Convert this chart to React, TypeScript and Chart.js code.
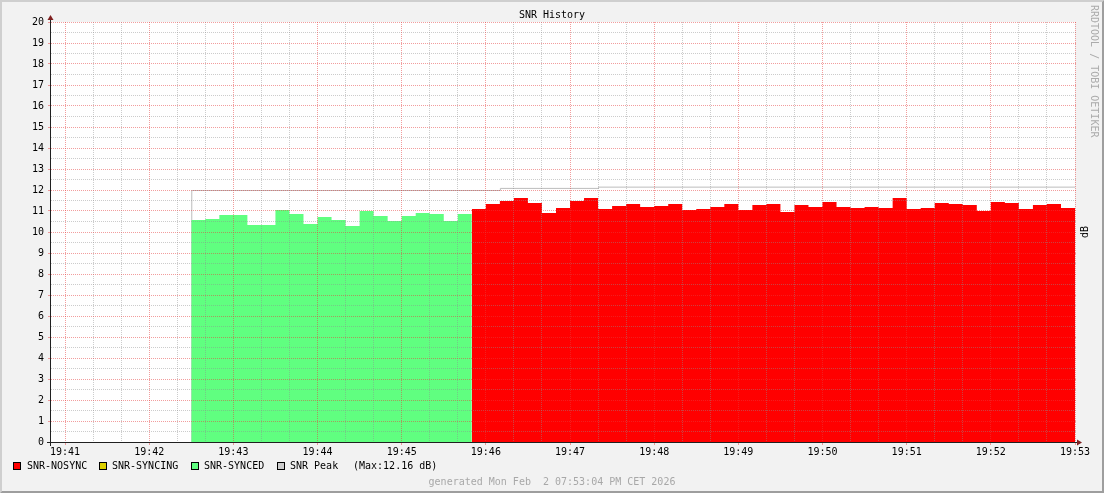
import React, { useEffect, useRef } from "react";
import { Chart, registerables } from "chart.js";

Chart.register(...registerables);

const FONT = '"DejaVu Sans Mono", "Liberation Mono", monospace';

// ---- data ----
const title = "SNR History";
const unitLabel = "dB";
const watermark = "RRDTOOL / TOBI OETIKER";
const footer = "generated Mon Feb  2 07:53:04 PM CET 2026";

const timeAxisStart = "19:40:50";
const timeAxisEnd = "19:53:00";
const stepSeconds = 10;

const xTickLabels = [
  "19:41", "19:42", "19:43", "19:44", "19:45", "19:46", "19:47",
  "19:48", "19:49", "19:50", "19:51", "19:52", "19:53",
];
const yTickValues = [0, 1, 2, 3, 4, 5, 6, 7, 8, 9, 10, 11, 12, 13, 14, 15, 16, 17, 18, 19, 20];

const syncedStart = "19:42:30";
const syncedValues = [
  10.57, 10.62, 10.81, 10.81, 10.33, 10.33, 11.05, 10.86, 10.38, 10.71,
  10.57, 10.29, 11.0, 10.76, 10.52, 10.76, 10.9, 10.86, 10.52, 10.86,
];

const nosyncStart = "19:45:50";
const nosyncValues = [
  11.1, 11.33, 11.48, 11.62, 11.38, 10.9, 11.14, 11.48, 11.62, 11.1,
  11.24, 11.33, 11.19, 11.24, 11.33, 11.05, 11.1, 11.19, 11.33, 11.05,
  11.29, 11.33, 10.95, 11.29, 11.19, 11.43, 11.19, 11.14, 11.19, 11.14,
  11.62, 11.1, 11.14, 11.38, 11.33, 11.29, 11.0, 11.43, 11.38, 11.1,
  11.29, 11.33, 11.14,
];

const peakTimes = ["19:42:30", "19:42:30", "19:46:10", "19:47:20", "19:53:00"];
const peakValues = [0, 12.0, 12.1, 12.16, 12.16];

const legendLabels = ["SNR-NOSYNC", "SNR-SYNCING", "SNR-SYNCED", "SNR Peak"];
const legendColors = ["#ff0000", "#ddd000", "#60ff80", "#cccccc"];
const peakMaxText = "(Max:12.16 dB)";

// ---- helpers ----
function toSec(t: string): number {
  const p = t.split(":").map(Number);
  return p[0] * 3600 + p[1] * 60 + (p[2] || 0);
}

function stepPoints(start: string, values: number[]) {
  const s = toSec(start);
  const pts = values.map((v, i) => ({ x: s + i * stepSeconds, y: v }));
  pts.push({ x: s + values.length * stepSeconds, y: values[values.length - 1] });
  return pts;
}

const COLOR_SYNCED = "#60ff80";
const COLOR_NOSYNC = "#ff0000";
const COLOR_PEAK = "#bcbcbc";
const GRID_MINOR = "rgba(143,143,143,0.45)";
const GRID_MAJOR = "rgba(230,60,60,0.5)";

const rrdPlugin = {
  id: "rrdLook",
  beforeDraw(chart: any) {
    const { ctx, width, height, chartArea: a } = chart;
    ctx.save();
    ctx.fillStyle = "#f2f2f2";
    ctx.fillRect(0, 0, width, height);
    ctx.fillStyle = "#cfcfcf";
    ctx.beginPath();
    ctx.moveTo(0, height);
    ctx.lineTo(2, height - 2);
    ctx.lineTo(2, 2);
    ctx.lineTo(width - 2, 2);
    ctx.lineTo(width, 0);
    ctx.lineTo(0, 0);
    ctx.closePath();
    ctx.fill();
    ctx.fillStyle = "#9e9e9e";
    ctx.beginPath();
    ctx.moveTo(2, height - 2);
    ctx.lineTo(width - 2, height - 2);
    ctx.lineTo(width - 2, 2);
    ctx.lineTo(width, 0);
    ctx.lineTo(width, height);
    ctx.lineTo(0, height);
    ctx.closePath();
    ctx.fill();
    ctx.fillStyle = "#ffffff";
    ctx.fillRect(a.left, a.top, a.right - a.left, a.bottom - a.top);
    ctx.restore();
  },
  beforeDatasetDraw(chart: any, args: any) {
    if (args.index === 2) {
      chart.ctx.save();
      chart.ctx.translate(0.5, 0.5);
    }
  },
  afterDatasetDraw(chart: any, args: any) {
    if (args.index === 2) chart.ctx.restore();
  },
  afterDatasetsDraw(chart: any) {
    const { ctx, chartArea: a } = chart;
    const xs = chart.scales.x;
    const ys = chart.scales.y;
    ctx.save();
    ctx.lineWidth = 1;
    ctx.setLineDash([1, 1]);
    const hline = (v: number, color: string) => {
      const y = Math.floor(ys.getPixelForValue(v)) + 0.5;
      ctx.strokeStyle = color;
      ctx.beginPath();
      ctx.moveTo(a.left, y);
      ctx.lineTo(a.right + 2, y);
      ctx.stroke();
    };
    const vline = (t: number, color: string) => {
      const x = Math.floor(xs.getPixelForValue(t)) + 0.5;
      ctx.strokeStyle = color;
      ctx.beginPath();
      ctx.moveTo(x, a.top);
      ctx.lineTo(x, a.bottom);
      ctx.stroke();
    };
    // minor grid
    for (let v = 0.5; v < 20; v += 1) hline(v, GRID_MINOR);
    const tMin = toSec(timeAxisStart);
    const tMax = toSec(timeAxisEnd);
    for (let t = Math.ceil(tMin / 20) * 20; t <= tMax; t += 20) {
      if (t % 60 !== 0) vline(t, GRID_MINOR);
    }
    // major grid
    yTickValues.forEach((v) => { if (v > 0) hline(v, GRID_MAJOR); });
    xTickLabels.forEach((l) => vline(toSec(l), GRID_MAJOR));

    // small tick marks
    ctx.setLineDash([]);
    ctx.strokeStyle = GRID_MAJOR;
    yTickValues.forEach((v) => {
      const y = Math.floor(ys.getPixelForValue(v)) + 0.5;
      ctx.beginPath();
      ctx.moveTo(a.left - 3, y);
      ctx.lineTo(a.left - 1, y);
      ctx.stroke();
    });
    xTickLabels.forEach((l) => {
      const x = Math.floor(xs.getPixelForValue(toSec(l))) + 0.5;
      ctx.beginPath();
      ctx.moveTo(x, a.bottom + 1);
      ctx.lineTo(x, a.bottom + 3);
      ctx.stroke();
    });

    // axes
    ctx.strokeStyle = "#202020";
    ctx.beginPath();
    ctx.moveTo(a.left - 4, a.bottom + 0.5);
    ctx.lineTo(a.right + 4, a.bottom + 0.5);
    ctx.stroke();
    ctx.beginPath();
    ctx.moveTo(a.left - 0.5, a.bottom + 4);
    ctx.lineTo(a.left - 0.5, a.top - 4);
    ctx.stroke();
    // arrows
    ctx.fillStyle = "#7f1f1f";
    ctx.beginPath();
    ctx.moveTo(a.right + 2, a.bottom + 0.5 - 3);
    ctx.lineTo(a.right + 2, a.bottom + 0.5 + 3);
    ctx.lineTo(a.right + 7, a.bottom + 0.5);
    ctx.closePath();
    ctx.fill();
    ctx.beginPath();
    ctx.moveTo(a.left - 0.5 - 3, a.top - 2);
    ctx.lineTo(a.left - 0.5 + 3, a.top - 2);
    ctx.lineTo(a.left - 0.5, a.top - 7);
    ctx.closePath();
    ctx.fill();
    ctx.restore();
  },
  afterDraw(chart: any) {
    const { ctx, width } = chart;
    ctx.save();
    ctx.font = `10px ${FONT}`;
    ctx.fillStyle = "#000000";
    ctx.textAlign = "center";
    ctx.textBaseline = "middle";
    ctx.fillText(title, width / 2, 15.5);

    // unit label
    ctx.save();
    ctx.translate(1085, 232);
    ctx.rotate(-Math.PI / 2);
    ctx.fillText(unitLabel, 0, 0);
    ctx.restore();

    // watermark
    ctx.save();
    ctx.fillStyle = "#ababab";
    ctx.translate(1093.5, 5);
    ctx.rotate(Math.PI / 2);
    ctx.textAlign = "left";
    ctx.fillText(watermark, 0, 0);
    ctx.restore();

    // legend
    const swatchX = [13, 99, 191, 277];
    const textX = [27, 112, 204, 290];
    const ly = 466.5;
    ctx.textAlign = "left";
    legendLabels.forEach((lab, i) => {
      ctx.fillStyle = legendColors[i];
      ctx.fillRect(swatchX[i], 462, 8, 8);
      ctx.strokeStyle = "#000000";
      ctx.lineWidth = 1;
      ctx.strokeRect(swatchX[i] + 0.5, 462.5, 7, 7);
      ctx.fillStyle = "#000000";
      ctx.fillText(lab, textX[i], ly);
    });
    ctx.fillText(peakMaxText, 353, ly);

    // footer
    ctx.fillStyle = "#a8a8a8";
    ctx.textAlign = "center";
    ctx.fillText(footer, width / 2, 482);
    ctx.restore();
  },
};

export default function App() {
  const canvasRef = useRef<HTMLCanvasElement | null>(null);

  useEffect(() => {
    const canvas = canvasRef.current;
    if (!canvas) return;
    const chart = new Chart(canvas, {
      type: "line",
      data: {
        datasets: [
          {
            label: "SNR-SYNCED",
            data: stepPoints(syncedStart, syncedValues),
            stepped: true,
            fill: "origin",
            backgroundColor: COLOR_SYNCED,
            borderColor: "rgba(0,0,0,0)",
            borderWidth: 0,
            pointRadius: 0,
          },
          {
            label: "SNR-NOSYNC",
            data: stepPoints(nosyncStart, nosyncValues),
            stepped: true,
            fill: "origin",
            backgroundColor: COLOR_NOSYNC,
            borderColor: "rgba(0,0,0,0)",
            borderWidth: 0,
            pointRadius: 0,
          },
          {
            label: "SNR Peak",
            data: peakTimes.map((t, i) => ({ x: toSec(t), y: peakValues[i] })),
            stepped: true,
            fill: false,
            borderColor: COLOR_PEAK,
            borderWidth: 1,
            pointRadius: 0,
          },
        ],
      },
      options: {
        animation: false,
        responsive: false,
        devicePixelRatio: 1,
        events: [],
        layout: { padding: { left: 0, right: 29, top: 22, bottom: 0 } },
        plugins: {
          legend: { display: false },
          title: { display: false },
          tooltip: { enabled: false },
        },
        scales: {
          x: {
            type: "linear",
            min: toSec(timeAxisStart),
            max: toSec(timeAxisEnd),
            grid: { display: false, drawTicks: false },
            border: { display: false },
            afterBuildTicks: (s: any) => {
              s.ticks = xTickLabels.map((l) => ({ value: toSec(l) }));
            },
            afterFit: (s: any) => {
              s.height = 51;
            },
            ticks: {
              autoSkip: false,
              maxRotation: 0,
              minRotation: 0,
              padding: 4,
              color: "#000000",
              font: { family: FONT, size: 10 },
              callback: (_v: any, i: number) => xTickLabels[i],
            },
          },
          y: {
            type: "linear",
            min: 0,
            max: 20,
            grid: { display: false, drawTicks: false },
            border: { display: false },
            afterBuildTicks: (s: any) => {
              s.ticks = yTickValues.map((v) => ({ value: v }));
            },
            afterFit: (s: any) => {
              s.width = 51;
            },
            ticks: {
              autoSkip: false,
              padding: 7,
              color: "#000000",
              font: { family: FONT, size: 10 },
              callback: (v: any) => String(v),
            },
          },
        },
      } as any,
      plugins: [rrdPlugin],
    });
    return () => chart.destroy();
  }, []);

  return (
    <div style={{ position: "absolute", left: 0, top: 0, width: 1104, height: 493 }}>
      <canvas
        ref={canvasRef}
        width={1104}
        height={493}
        style={{ display: "block", width: 1104, height: 493 }}
      />
    </div>
  );
}
